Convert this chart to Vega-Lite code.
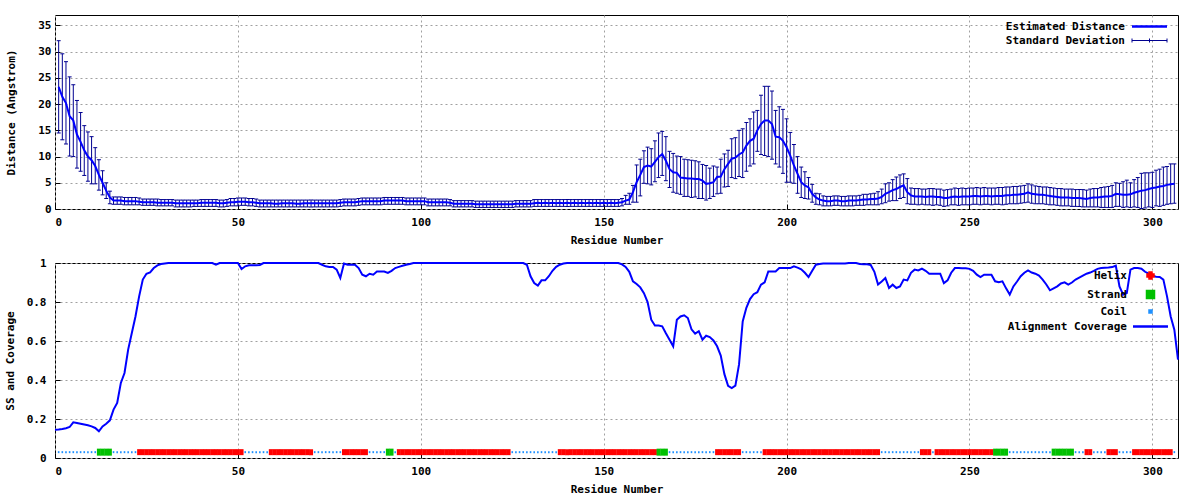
{
"$schema":"https://vega.github.io/schema/vega-lite/v6.json",
"background":"white",
"padding":{"left":3,"top":14,"right":0,"bottom":0},
"spacing":10,
"config":{
 "font":"DejaVu Sans Mono",
 "view":{"stroke":"black","strokeWidth":1},
 "axis":{"labelFont":"DejaVu Sans Mono","labelFontWeight":"bold","labelFontSize":11,"labelColor":"black","labelOverlap":false,"titleFont":"DejaVu Sans Mono","titleFontWeight":"bold","titleFontSize":11,"titleColor":"black","grid":true,"gridColor":"#a0a0a0","gridDash":[2,3],"gridWidth":1,"domain":false,"tickColor":"black","tickSize":-5,"tickWidth":1},
 "legend":{"orient":"none","title":null,"padding":0,"rowPadding":2,"labelAlign":"right","labelFont":"DejaVu Sans Mono","labelFontWeight":"bold","labelFontSize":11,"labelColor":"black","labelLimit":400,"symbolSize":100}
},
"resolve":{"scale":{"color":"independent","x":"independent","y":"independent"},"legend":{"color":"independent"}},
"vconcat":[
{
 "width":1123,"height":194,
 "data":{"values":[
{"r":1,"d":23.3,"lo":14.5,"hi":32.1},{"r":2,"d":21.4,"lo":13.2,"hi":29.6},{"r":3,"d":20.2,"lo":12.4,"hi":28.1},{"r":4,"d":17.7,"lo":10.1,"hi":25.2},{"r":5,"d":16.9,"lo":10.0,"hi":23.7},{"r":6,"d":14.2,"lo":7.8,"hi":20.7},{"r":7,"d":12.8,"lo":7.2,"hi":18.4},{"r":8,"d":11.2,"lo":6.4,"hi":15.9},{"r":9,"d":10.0,"lo":5.3,"hi":14.7},{"r":10,"d":9.3,"lo":4.8,"hi":13.8},
{"r":11,"d":8.2,"lo":4.8,"hi":11.7},{"r":12,"d":6.5,"lo":3.6,"hi":9.4},{"r":13,"d":5.0,"lo":2.7,"hi":7.3},{"r":14,"d":3.5,"lo":2.0,"hi":5.0},{"r":15,"d":2.2,"lo":1.0,"hi":3.4},{"r":16,"d":1.6,"lo":0.9,"hi":2.3},{"r":17,"d":1.6,"lo":0.9,"hi":2.3},{"r":18,"d":1.6,"lo":0.9,"hi":2.3},{"r":19,"d":1.5,"lo":0.8,"hi":2.2},{"r":20,"d":1.5,"lo":0.8,"hi":2.2},
{"r":21,"d":1.5,"lo":0.8,"hi":2.2},{"r":22,"d":1.5,"lo":0.8,"hi":2.2},{"r":23,"d":1.4,"lo":0.8,"hi":2.1},{"r":24,"d":1.3,"lo":0.7,"hi":1.9},{"r":25,"d":1.3,"lo":0.7,"hi":1.9},{"r":26,"d":1.3,"lo":0.7,"hi":1.9},{"r":27,"d":1.3,"lo":0.7,"hi":1.9},{"r":28,"d":1.2,"lo":0.6,"hi":1.9},{"r":29,"d":1.2,"lo":0.6,"hi":1.8},{"r":30,"d":1.2,"lo":0.6,"hi":1.8},
{"r":31,"d":1.2,"lo":0.6,"hi":1.8},{"r":32,"d":1.2,"lo":0.6,"hi":1.8},{"r":33,"d":1.1,"lo":0.4,"hi":1.7},{"r":34,"d":1.1,"lo":0.4,"hi":1.7},{"r":35,"d":1.1,"lo":0.4,"hi":1.7},{"r":36,"d":1.1,"lo":0.4,"hi":1.7},{"r":37,"d":1.1,"lo":0.4,"hi":1.7},{"r":38,"d":1.1,"lo":0.5,"hi":1.7},{"r":39,"d":1.1,"lo":0.5,"hi":1.7},{"r":40,"d":1.2,"lo":0.5,"hi":1.8},
{"r":41,"d":1.2,"lo":0.5,"hi":1.8},{"r":42,"d":1.2,"lo":0.5,"hi":1.8},{"r":43,"d":1.2,"lo":0.5,"hi":1.8},{"r":44,"d":1.2,"lo":0.5,"hi":1.8},{"r":45,"d":1.1,"lo":0.4,"hi":1.7},{"r":46,"d":1.1,"lo":0.4,"hi":1.7},{"r":47,"d":1.2,"lo":0.5,"hi":1.8},{"r":48,"d":1.3,"lo":0.6,"hi":2.0},{"r":49,"d":1.3,"lo":0.6,"hi":2.0},{"r":50,"d":1.4,"lo":0.6,"hi":2.1},
{"r":51,"d":1.4,"lo":0.7,"hi":2.1},{"r":52,"d":1.4,"lo":0.7,"hi":2.1},{"r":53,"d":1.3,"lo":0.6,"hi":2.0},{"r":54,"d":1.3,"lo":0.6,"hi":2.0},{"r":55,"d":1.2,"lo":0.5,"hi":1.9},{"r":56,"d":1.1,"lo":0.4,"hi":1.7},{"r":57,"d":1.1,"lo":0.4,"hi":1.7},{"r":58,"d":1.1,"lo":0.4,"hi":1.7},{"r":59,"d":1.1,"lo":0.4,"hi":1.7},{"r":60,"d":1.0,"lo":0.4,"hi":1.7},
{"r":61,"d":1.0,"lo":0.4,"hi":1.7},{"r":62,"d":1.1,"lo":0.4,"hi":1.7},{"r":63,"d":1.1,"lo":0.4,"hi":1.7},{"r":64,"d":1.1,"lo":0.4,"hi":1.7},{"r":65,"d":1.1,"lo":0.4,"hi":1.7},{"r":66,"d":1.0,"lo":0.4,"hi":1.7},{"r":67,"d":1.0,"lo":0.4,"hi":1.7},{"r":68,"d":1.1,"lo":0.4,"hi":1.7},{"r":69,"d":1.1,"lo":0.4,"hi":1.7},{"r":70,"d":1.1,"lo":0.4,"hi":1.7},
{"r":71,"d":1.1,"lo":0.4,"hi":1.7},{"r":72,"d":1.1,"lo":0.4,"hi":1.7},{"r":73,"d":1.1,"lo":0.4,"hi":1.7},{"r":74,"d":1.1,"lo":0.4,"hi":1.7},{"r":75,"d":1.1,"lo":0.4,"hi":1.7},{"r":76,"d":1.1,"lo":0.4,"hi":1.7},{"r":77,"d":1.1,"lo":0.4,"hi":1.7},{"r":78,"d":1.2,"lo":0.5,"hi":1.8},{"r":79,"d":1.3,"lo":0.6,"hi":1.9},{"r":80,"d":1.3,"lo":0.6,"hi":1.9},
{"r":81,"d":1.3,"lo":0.6,"hi":1.9},{"r":82,"d":1.3,"lo":0.6,"hi":1.9},{"r":83,"d":1.4,"lo":0.7,"hi":2.0},{"r":84,"d":1.5,"lo":0.8,"hi":2.1},{"r":85,"d":1.5,"lo":0.8,"hi":2.1},{"r":86,"d":1.5,"lo":0.8,"hi":2.1},{"r":87,"d":1.5,"lo":0.8,"hi":2.1},{"r":88,"d":1.5,"lo":0.8,"hi":2.1},{"r":89,"d":1.5,"lo":0.8,"hi":2.1},{"r":90,"d":1.6,"lo":0.9,"hi":2.2},
{"r":91,"d":1.6,"lo":0.9,"hi":2.2},{"r":92,"d":1.6,"lo":0.9,"hi":2.2},{"r":93,"d":1.6,"lo":0.9,"hi":2.2},{"r":94,"d":1.6,"lo":0.9,"hi":2.2},{"r":95,"d":1.6,"lo":0.9,"hi":2.2},{"r":96,"d":1.5,"lo":0.8,"hi":2.1},{"r":97,"d":1.5,"lo":0.8,"hi":2.1},{"r":98,"d":1.5,"lo":0.8,"hi":2.1},{"r":99,"d":1.5,"lo":0.8,"hi":2.1},{"r":100,"d":1.5,"lo":0.8,"hi":2.1},
{"r":101,"d":1.5,"lo":0.8,"hi":2.1},{"r":102,"d":1.3,"lo":0.6,"hi":1.9},{"r":103,"d":1.3,"lo":0.6,"hi":1.9},{"r":104,"d":1.3,"lo":0.6,"hi":1.9},{"r":105,"d":1.3,"lo":0.6,"hi":1.9},{"r":106,"d":1.3,"lo":0.6,"hi":1.9},{"r":107,"d":1.3,"lo":0.6,"hi":1.9},{"r":108,"d":1.2,"lo":0.6,"hi":1.8},{"r":109,"d":1.0,"lo":0.4,"hi":1.6},{"r":110,"d":1.0,"lo":0.4,"hi":1.6},
{"r":111,"d":1.0,"lo":0.4,"hi":1.6},{"r":112,"d":1.0,"lo":0.4,"hi":1.6},{"r":113,"d":1.0,"lo":0.4,"hi":1.6},{"r":114,"d":1.0,"lo":0.4,"hi":1.6},{"r":115,"d":0.9,"lo":0.3,"hi":1.5},{"r":116,"d":0.9,"lo":0.3,"hi":1.5},{"r":117,"d":0.9,"lo":0.3,"hi":1.5},{"r":118,"d":0.9,"lo":0.3,"hi":1.5},{"r":119,"d":0.9,"lo":0.3,"hi":1.5},{"r":120,"d":0.9,"lo":0.3,"hi":1.5},
{"r":121,"d":0.9,"lo":0.3,"hi":1.5},{"r":122,"d":0.9,"lo":0.3,"hi":1.5},{"r":123,"d":0.9,"lo":0.3,"hi":1.5},{"r":124,"d":0.9,"lo":0.3,"hi":1.5},{"r":125,"d":0.9,"lo":0.3,"hi":1.5},{"r":126,"d":1.0,"lo":0.4,"hi":1.6},{"r":127,"d":1.0,"lo":0.4,"hi":1.6},{"r":128,"d":1.0,"lo":0.4,"hi":1.6},{"r":129,"d":1.0,"lo":0.4,"hi":1.6},{"r":130,"d":1.0,"lo":0.4,"hi":1.6},
{"r":131,"d":1.1,"lo":0.5,"hi":1.8},{"r":132,"d":1.2,"lo":0.5,"hi":1.8},{"r":133,"d":1.1,"lo":0.5,"hi":1.8},{"r":134,"d":1.2,"lo":0.5,"hi":1.8},{"r":135,"d":1.1,"lo":0.5,"hi":1.8},{"r":136,"d":1.2,"lo":0.5,"hi":1.8},{"r":137,"d":1.1,"lo":0.5,"hi":1.8},{"r":138,"d":1.2,"lo":0.5,"hi":1.8},{"r":139,"d":1.1,"lo":0.5,"hi":1.8},{"r":140,"d":1.2,"lo":0.5,"hi":1.8},
{"r":141,"d":1.1,"lo":0.5,"hi":1.8},{"r":142,"d":1.2,"lo":0.5,"hi":1.8},{"r":143,"d":1.1,"lo":0.5,"hi":1.8},{"r":144,"d":1.2,"lo":0.5,"hi":1.8},{"r":145,"d":1.1,"lo":0.5,"hi":1.8},{"r":146,"d":1.2,"lo":0.5,"hi":1.8},{"r":147,"d":1.1,"lo":0.5,"hi":1.8},{"r":148,"d":1.2,"lo":0.5,"hi":1.8},{"r":149,"d":1.1,"lo":0.5,"hi":1.8},{"r":150,"d":1.2,"lo":0.5,"hi":1.8},
{"r":151,"d":1.1,"lo":0.5,"hi":1.8},{"r":152,"d":1.2,"lo":0.5,"hi":1.8},{"r":153,"d":1.1,"lo":0.5,"hi":1.8},{"r":154,"d":1.2,"lo":0.5,"hi":1.8},{"r":155,"d":1.3,"lo":0.6,"hi":2.0},{"r":156,"d":1.6,"lo":0.9,"hi":2.6},{"r":157,"d":1.8,"lo":0.9,"hi":3.0},{"r":158,"d":3.2,"lo":1.3,"hi":4.5},{"r":159,"d":5.1,"lo":1.3,"hi":8.4},{"r":160,"d":6.5,"lo":2.5,"hi":9.5},
{"r":161,"d":8.0,"lo":4.9,"hi":11.1},{"r":162,"d":8.3,"lo":4.8,"hi":11.8},{"r":163,"d":8.1,"lo":4.6,"hi":11.5},{"r":164,"d":9.0,"lo":5.2,"hi":13.0},{"r":165,"d":9.9,"lo":6.0,"hi":14.5},{"r":166,"d":10.5,"lo":6.4,"hi":14.8},{"r":167,"d":9.2,"lo":5.4,"hi":13.8},{"r":168,"d":7.6,"lo":4.1,"hi":11.0},{"r":169,"d":7.0,"lo":3.2,"hi":10.6},{"r":170,"d":6.9,"lo":3.0,"hi":10.1},
{"r":171,"d":6.0,"lo":2.8,"hi":10.0},{"r":172,"d":5.9,"lo":2.4,"hi":9.5},{"r":173,"d":5.8,"lo":2.4,"hi":9.4},{"r":174,"d":5.8,"lo":2.2,"hi":9.3},{"r":175,"d":5.7,"lo":2.3,"hi":9.2},{"r":176,"d":5.7,"lo":2.0,"hi":9.0},{"r":177,"d":5.4,"lo":2.0,"hi":8.5},{"r":178,"d":4.8,"lo":1.7,"hi":8.3},{"r":179,"d":4.9,"lo":2.0,"hi":7.8},{"r":180,"d":5.1,"lo":2.4,"hi":8.2},
{"r":181,"d":6.1,"lo":2.9,"hi":8.0},{"r":182,"d":6.2,"lo":3.0,"hi":9.5},{"r":183,"d":7.6,"lo":4.2,"hi":10.5},{"r":184,"d":8.6,"lo":4.3,"hi":11.2},{"r":185,"d":9.6,"lo":6.0,"hi":13.4},{"r":186,"d":9.8,"lo":5.8,"hi":13.6},{"r":187,"d":10.4,"lo":6.2,"hi":15.0},{"r":188,"d":10.8,"lo":6.0,"hi":15.3},{"r":189,"d":12.1,"lo":7.2,"hi":16.5},{"r":190,"d":13.0,"lo":8.2,"hi":17.2},
{"r":191,"d":13.4,"lo":8.6,"hi":18.5},{"r":192,"d":15.0,"lo":11.0,"hi":18.8},{"r":193,"d":16.2,"lo":10.4,"hi":21.7},{"r":194,"d":16.9,"lo":10.2,"hi":23.4},{"r":195,"d":16.9,"lo":10.0,"hi":23.4},{"r":196,"d":16.2,"lo":9.5,"hi":22.5},{"r":197,"d":13.8,"lo":8.6,"hi":18.8},{"r":198,"d":13.7,"lo":8.0,"hi":19.5},{"r":199,"d":13.0,"lo":6.8,"hi":19.0},{"r":200,"d":11.8,"lo":5.1,"hi":17.2},
{"r":201,"d":10.2,"lo":5.1,"hi":14.6},{"r":202,"d":8.3,"lo":4.9,"hi":12.3},{"r":203,"d":6.7,"lo":3.0,"hi":10.0},{"r":204,"d":5.1,"lo":2.2,"hi":8.0},{"r":205,"d":4.5,"lo":2.0,"hi":7.1},{"r":206,"d":4.1,"lo":1.9,"hi":6.0},{"r":207,"d":2.9,"lo":1.3,"hi":4.7},{"r":208,"d":2.2,"lo":0.9,"hi":3.0},{"r":209,"d":1.8,"lo":0.8,"hi":2.9},{"r":210,"d":1.6,"lo":0.6,"hi":2.5},
{"r":211,"d":1.5,"lo":0.6,"hi":2.4},{"r":212,"d":1.5,"lo":0.6,"hi":2.4},{"r":213,"d":1.6,"lo":0.7,"hi":2.5},{"r":214,"d":1.6,"lo":0.7,"hi":2.5},{"r":215,"d":1.5,"lo":0.6,"hi":2.4},{"r":216,"d":1.5,"lo":0.6,"hi":2.4},{"r":217,"d":1.6,"lo":0.6,"hi":2.5},{"r":218,"d":1.6,"lo":0.6,"hi":2.5},{"r":219,"d":1.6,"lo":0.7,"hi":2.5},{"r":220,"d":1.7,"lo":0.7,"hi":2.6},
{"r":221,"d":1.8,"lo":0.7,"hi":2.8},{"r":222,"d":1.8,"lo":0.8,"hi":2.8},{"r":223,"d":1.9,"lo":0.8,"hi":2.9},{"r":224,"d":1.9,"lo":0.8,"hi":3.0},{"r":225,"d":2.0,"lo":0.8,"hi":3.3},{"r":226,"d":2.3,"lo":1.0,"hi":3.8},{"r":227,"d":2.9,"lo":1.2,"hi":4.8},{"r":228,"d":3.2,"lo":1.5,"hi":5.0},{"r":229,"d":3.6,"lo":1.6,"hi":5.6},{"r":230,"d":3.8,"lo":1.6,"hi":6.1},
{"r":231,"d":4.2,"lo":2.0,"hi":6.5},{"r":232,"d":4.5,"lo":2.2,"hi":6.7},{"r":233,"d":3.2,"lo":1.0,"hi":5.8},{"r":234,"d":2.6,"lo":0.9,"hi":4.0},{"r":235,"d":2.4,"lo":0.9,"hi":3.9},{"r":236,"d":2.4,"lo":0.8,"hi":3.9},{"r":237,"d":2.4,"lo":0.9,"hi":3.8},{"r":238,"d":2.3,"lo":0.8,"hi":3.8},{"r":239,"d":2.4,"lo":0.8,"hi":3.9},{"r":240,"d":2.4,"lo":0.7,"hi":3.9},
{"r":241,"d":2.3,"lo":0.8,"hi":3.8},{"r":242,"d":2.3,"lo":0.7,"hi":3.8},{"r":243,"d":2.1,"lo":0.5,"hi":3.6},{"r":244,"d":2.1,"lo":0.6,"hi":3.7},{"r":245,"d":2.3,"lo":0.8,"hi":3.8},{"r":246,"d":2.4,"lo":0.8,"hi":4.0},{"r":247,"d":2.3,"lo":0.7,"hi":3.9},{"r":248,"d":2.4,"lo":0.8,"hi":4.0},{"r":249,"d":2.4,"lo":0.8,"hi":3.9},{"r":250,"d":2.4,"lo":0.8,"hi":4.0},
{"r":251,"d":2.5,"lo":0.9,"hi":4.0},{"r":252,"d":2.5,"lo":0.9,"hi":4.1},{"r":253,"d":2.4,"lo":0.8,"hi":4.0},{"r":254,"d":2.5,"lo":0.9,"hi":4.1},{"r":255,"d":2.5,"lo":0.9,"hi":4.0},{"r":256,"d":2.4,"lo":0.8,"hi":4.0},{"r":257,"d":2.5,"lo":0.9,"hi":4.0},{"r":258,"d":2.5,"lo":0.9,"hi":4.1},{"r":259,"d":2.5,"lo":0.8,"hi":4.1},{"r":260,"d":2.6,"lo":0.9,"hi":4.2},
{"r":261,"d":2.6,"lo":1.0,"hi":4.2},{"r":262,"d":2.7,"lo":1.0,"hi":4.3},{"r":263,"d":2.7,"lo":1.0,"hi":4.3},{"r":264,"d":2.8,"lo":1.1,"hi":4.4},{"r":265,"d":2.9,"lo":1.2,"hi":4.5},{"r":266,"d":3.2,"lo":1.3,"hi":4.8},{"r":267,"d":2.9,"lo":1.1,"hi":4.6},{"r":268,"d":2.8,"lo":1.0,"hi":4.4},{"r":269,"d":2.7,"lo":1.0,"hi":4.3},{"r":270,"d":2.7,"lo":1.0,"hi":4.2},
{"r":271,"d":2.6,"lo":0.9,"hi":4.2},{"r":272,"d":2.5,"lo":0.8,"hi":4.1},{"r":273,"d":2.4,"lo":0.8,"hi":4.0},{"r":274,"d":2.3,"lo":0.7,"hi":3.9},{"r":275,"d":2.2,"lo":0.6,"hi":3.9},{"r":276,"d":2.2,"lo":0.6,"hi":3.8},{"r":277,"d":2.2,"lo":0.6,"hi":3.8},{"r":278,"d":2.1,"lo":0.5,"hi":3.8},{"r":279,"d":2.1,"lo":0.5,"hi":3.7},{"r":280,"d":2.1,"lo":0.5,"hi":3.7},
{"r":281,"d":2.0,"lo":0.4,"hi":3.7},{"r":282,"d":1.9,"lo":0.4,"hi":3.6},{"r":283,"d":2.1,"lo":0.4,"hi":3.8},{"r":284,"d":2.2,"lo":0.4,"hi":3.9},{"r":285,"d":2.2,"lo":0.4,"hi":3.9},{"r":286,"d":2.3,"lo":0.3,"hi":4.1},{"r":287,"d":2.4,"lo":0.3,"hi":4.2},{"r":288,"d":2.4,"lo":0.3,"hi":4.3},{"r":289,"d":2.5,"lo":0.3,"hi":4.5},{"r":290,"d":2.9,"lo":0.5,"hi":5.0},
{"r":291,"d":2.8,"lo":0.5,"hi":4.9},{"r":292,"d":2.7,"lo":0.3,"hi":5.2},{"r":293,"d":2.7,"lo":0.4,"hi":5.5},{"r":294,"d":2.8,"lo":0.3,"hi":5.0},{"r":295,"d":3.1,"lo":0.4,"hi":5.6},{"r":296,"d":3.3,"lo":0.3,"hi":6.0},{"r":297,"d":3.5,"lo":0.1,"hi":6.8},{"r":298,"d":3.6,"lo":0.2,"hi":6.9},{"r":299,"d":3.8,"lo":0.4,"hi":6.9},{"r":300,"d":4.0,"lo":0.3,"hi":7.0},
{"r":301,"d":4.1,"lo":0.6,"hi":7.4},{"r":302,"d":4.3,"lo":0.5,"hi":7.6},{"r":303,"d":4.4,"lo":0.7,"hi":8.0},{"r":304,"d":4.6,"lo":0.9,"hi":8.1},{"r":305,"d":4.7,"lo":1.0,"hi":8.6},{"r":306,"d":4.8,"lo":1.1,"hi":8.6}
 ]},
 "encoding":{"x":{"field":"r","type":"quantitative","scale":{"domain":[0,307],"nice":false,"zero":false},"axis":{"values":[0,50,100,150,200,250,300],"title":"Residue Number","labelPadding":12,"titlePadding":7}}},
 "layer":[
  {"mark":{"type":"rule","strokeWidth":1},
   "encoding":{"y":{"field":"lo","type":"quantitative","title":"Distance (Angstrom)","scale":{"domain":[0,37],"nice":false},"axis":{"values":[0,5,10,15,20,25,30,35],"labelPadding":9,"titleX":-44,"titleBaseline":"middle"}},"y2":{"field":"hi"},
    "color":{"datum":"Standard Deviation","type":"nominal","scale":{"domain":["Estimated Distance","Standard Deviation"],"range":["#0000ff","#000090"]},
     "legend":{"legendX":1089,"legendY":6,"labelOffset":-30,
      "encode":{"symbols":{"update":{
       "shape":{"signal":"datum.value === 'Estimated Distance' ? 'M-3.5,0H3.5' : 'M-3.5,0H3.5M-3.5,-0.4V0.4M3.5,-0.4V0.4M0,-0.4V0.4'"},
       "stroke":{"signal":"datum.value === 'Estimated Distance' ? '#0000ff' : '#000090'"},
       "strokeWidth":{"signal":"datum.value === 'Estimated Distance' ? 2.5 : 1"},
       "fill":{"value":"transparent"},"opacity":{"value":1}}}}}}}},
  {"mark":{"type":"tick","orient":"horizontal","size":4,"thickness":1,"opacity":1},
   "encoding":{"y":{"field":"lo","type":"quantitative","title":"Distance (Angstrom)","axis":{"values":[0,5,10,15,20,25,30,35],"labelPadding":9,"titleX":-44,"titleBaseline":"middle"}},"color":{"datum":"Standard Deviation","type":"nominal"}}},
  {"mark":{"type":"tick","orient":"horizontal","size":4,"thickness":1,"opacity":1},
   "encoding":{"y":{"field":"hi","type":"quantitative","title":"Distance (Angstrom)","axis":{"values":[0,5,10,15,20,25,30,35],"labelPadding":9,"titleX":-44,"titleBaseline":"middle"}},"color":{"datum":"Standard Deviation","type":"nominal"}}},
  {"mark":{"type":"line","strokeWidth":2},
   "encoding":{"y":{"field":"d","type":"quantitative","title":"Distance (Angstrom)","axis":{"values":[0,5,10,15,20,25,30,35],"labelPadding":9,"titleX":-44,"titleBaseline":"middle"}},"color":{"datum":"Estimated Distance","type":"nominal"}}}
 ]
},
{
 "width":1123,"height":195,
 "data":{"values":[
{"r":0,"c":0.145},{"r":1,"c":0.146,"ss":"C"},{"r":2,"c":0.149,"ss":"C"},{"r":3,"c":0.153,"ss":"C"},{"r":4,"c":0.159,"ss":"C"},{"r":5,"c":0.183,"ss":"C"},{"r":6,"c":0.180,"ss":"C"},{"r":7,"c":0.176,"ss":"C"},{"r":8,"c":0.172,"ss":"C"},{"r":9,"c":0.168,"ss":"C"},{"r":10,"c":0.162,"ss":"C"},
{"r":11,"c":0.154,"ss":"C"},{"r":12,"c":0.137,"ss":"E"},{"r":13,"c":0.162,"ss":"E"},{"r":14,"c":0.176,"ss":"E"},{"r":15,"c":0.193,"ss":"E"},{"r":16,"c":0.248,"ss":"C"},{"r":17,"c":0.282,"ss":"C"},{"r":18,"c":0.385,"ss":"C"},{"r":19,"c":0.436,"ss":"C"},{"r":20,"c":0.556,"ss":"C"},
{"r":21,"c":0.641,"ss":"C"},{"r":22,"c":0.726,"ss":"C"},{"r":23,"c":0.829,"ss":"H"},{"r":24,"c":0.915,"ss":"H"},{"r":25,"c":0.945,"ss":"H"},{"r":26,"c":0.952,"ss":"H"},{"r":27,"c":0.974,"ss":"H"},{"r":28,"c":0.988,"ss":"H"},{"r":29,"c":0.995,"ss":"H"},{"r":30,"c":0.998,"ss":"H"},
{"r":31,"c":1,"ss":"H"},{"r":32,"c":1,"ss":"H"},{"r":33,"c":1,"ss":"H"},{"r":34,"c":1,"ss":"H"},{"r":35,"c":1,"ss":"H"},{"r":36,"c":1,"ss":"H"},{"r":37,"c":1,"ss":"H"},{"r":38,"c":1,"ss":"H"},{"r":39,"c":1,"ss":"H"},{"r":40,"c":1,"ss":"H"},
{"r":41,"c":1,"ss":"H"},{"r":42,"c":1,"ss":"H"},{"r":43,"c":1,"ss":"H"},{"r":44,"c":0.991,"ss":"H"},{"r":45,"c":1,"ss":"H"},{"r":46,"c":1,"ss":"H"},{"r":47,"c":1,"ss":"H"},{"r":48,"c":1,"ss":"H"},{"r":49,"c":1,"ss":"H"},{"r":50,"c":1,"ss":"H"},
{"r":51,"c":0.969,"ss":"H"},{"r":52,"c":0.983,"ss":"C"},{"r":53,"c":0.988,"ss":"C"},{"r":54,"c":0.988,"ss":"C"},{"r":55,"c":0.988,"ss":"C"},{"r":56,"c":0.990,"ss":"C"},{"r":57,"c":1,"ss":"C"},{"r":58,"c":1,"ss":"C"},{"r":59,"c":1,"ss":"H"},{"r":60,"c":1,"ss":"H"},
{"r":61,"c":1,"ss":"H"},{"r":62,"c":1,"ss":"H"},{"r":63,"c":1,"ss":"H"},{"r":64,"c":1,"ss":"H"},{"r":65,"c":1,"ss":"H"},{"r":66,"c":1,"ss":"H"},{"r":67,"c":1,"ss":"H"},{"r":68,"c":1,"ss":"H"},{"r":69,"c":1,"ss":"H"},{"r":70,"c":1,"ss":"H"},
{"r":71,"c":1,"ss":"C"},{"r":72,"c":1,"ss":"C"},{"r":73,"c":0.991,"ss":"C"},{"r":74,"c":0.983,"ss":"C"},{"r":75,"c":0.980,"ss":"C"},{"r":76,"c":0.980,"ss":"C"},{"r":77,"c":0.966,"ss":"C"},{"r":78,"c":0.923,"ss":"C"},{"r":79,"c":0.997,"ss":"H"},{"r":80,"c":0.991,"ss":"H"},
{"r":81,"c":0.991,"ss":"H"},{"r":82,"c":0.991,"ss":"H"},{"r":83,"c":0.974,"ss":"H"},{"r":84,"c":0.940,"ss":"H"},{"r":85,"c":0.932,"ss":"H"},{"r":86,"c":0.945,"ss":"C"},{"r":87,"c":0.940,"ss":"C"},{"r":88,"c":0.956,"ss":"C"},{"r":89,"c":0.956,"ss":"C"},{"r":90,"c":0.956,"ss":"C"},
{"r":91,"c":0.949,"ss":"E"},{"r":92,"c":0.960,"ss":"E"},{"r":93,"c":0.974,"ss":"C"},{"r":94,"c":0.980,"ss":"H"},{"r":95,"c":0.986,"ss":"H"},{"r":96,"c":0.991,"ss":"H"},{"r":97,"c":0.995,"ss":"H"},{"r":98,"c":1,"ss":"H"},{"r":99,"c":1,"ss":"H"},{"r":100,"c":1,"ss":"H"},
{"r":101,"c":1,"ss":"H"},{"r":102,"c":1,"ss":"H"},{"r":103,"c":1,"ss":"H"},{"r":104,"c":1,"ss":"H"},{"r":105,"c":1,"ss":"H"},{"r":106,"c":1,"ss":"H"},{"r":107,"c":1,"ss":"H"},{"r":108,"c":1,"ss":"H"},{"r":109,"c":1,"ss":"H"},{"r":110,"c":1,"ss":"H"},
{"r":111,"c":1,"ss":"H"},{"r":112,"c":1,"ss":"H"},{"r":113,"c":1,"ss":"H"},{"r":114,"c":1,"ss":"H"},{"r":115,"c":1,"ss":"H"},{"r":116,"c":1,"ss":"H"},{"r":117,"c":1,"ss":"H"},{"r":118,"c":1,"ss":"H"},{"r":119,"c":1,"ss":"H"},{"r":120,"c":1,"ss":"H"},
{"r":121,"c":1,"ss":"H"},{"r":122,"c":1,"ss":"H"},{"r":123,"c":1,"ss":"H"},{"r":124,"c":1,"ss":"H"},{"r":125,"c":1,"ss":"C"},{"r":126,"c":1,"ss":"C"},{"r":127,"c":1,"ss":"C"},{"r":128,"c":1,"ss":"C"},{"r":129,"c":0.991,"ss":"C"},{"r":130,"c":0.932,"ss":"C"},
{"r":131,"c":0.897,"ss":"C"},{"r":132,"c":0.884,"ss":"C"},{"r":133,"c":0.911,"ss":"C"},{"r":134,"c":0.911,"ss":"C"},{"r":135,"c":0.932,"ss":"C"},{"r":136,"c":0.960,"ss":"C"},{"r":137,"c":0.980,"ss":"C"},{"r":138,"c":0.991,"ss":"H"},{"r":139,"c":0.997,"ss":"H"},{"r":140,"c":1,"ss":"H"},
{"r":141,"c":1,"ss":"H"},{"r":142,"c":1,"ss":"H"},{"r":143,"c":1,"ss":"H"},{"r":144,"c":1,"ss":"H"},{"r":145,"c":1,"ss":"H"},{"r":146,"c":1,"ss":"H"},{"r":147,"c":1,"ss":"H"},{"r":148,"c":1,"ss":"H"},{"r":149,"c":1,"ss":"H"},{"r":150,"c":1,"ss":"H"},
{"r":151,"c":1,"ss":"H"},{"r":152,"c":1,"ss":"H"},{"r":153,"c":1,"ss":"H"},{"r":154,"c":1,"ss":"H"},{"r":155,"c":0.993,"ss":"H"},{"r":156,"c":0.980,"ss":"H"},{"r":157,"c":0.955,"ss":"H"},{"r":158,"c":0.906,"ss":"H"},{"r":159,"c":0.892,"ss":"H"},{"r":160,"c":0.875,"ss":"H"},
{"r":161,"c":0.845,"ss":"H"},{"r":162,"c":0.800,"ss":"H"},{"r":163,"c":0.709,"ss":"H"},{"r":164,"c":0.679,"ss":"H"},{"r":165,"c":0.679,"ss":"E"},{"r":166,"c":0.675,"ss":"E"},{"r":167,"c":0.640,"ss":"E"},{"r":168,"c":0.607,"ss":"C"},{"r":169,"c":0.573,"ss":"C"},{"r":170,"c":0.709,"ss":"C"},
{"r":171,"c":0.726,"ss":"C"},{"r":172,"c":0.732,"ss":"C"},{"r":173,"c":0.718,"ss":"C"},{"r":174,"c":0.660,"ss":"C"},{"r":175,"c":0.638,"ss":"C"},{"r":176,"c":0.650,"ss":"C"},{"r":177,"c":0.607,"ss":"C"},{"r":178,"c":0.627,"ss":"C"},{"r":179,"c":0.620,"ss":"C"},{"r":180,"c":0.603,"ss":"C"},
{"r":181,"c":0.573,"ss":"H"},{"r":182,"c":0.525,"ss":"H"},{"r":183,"c":0.430,"ss":"H"},{"r":184,"c":0.370,"ss":"H"},{"r":185,"c":0.359,"ss":"H"},{"r":186,"c":0.371,"ss":"H"},{"r":187,"c":0.480,"ss":"H"},{"r":188,"c":0.700,"ss":"C"},{"r":189,"c":0.770,"ss":"C"},{"r":190,"c":0.815,"ss":"C"},
{"r":191,"c":0.840,"ss":"C"},{"r":192,"c":0.850,"ss":"C"},{"r":193,"c":0.889,"ss":"C"},{"r":194,"c":0.901,"ss":"H"},{"r":195,"c":0.957,"ss":"H"},{"r":196,"c":0.957,"ss":"H"},{"r":197,"c":0.957,"ss":"H"},{"r":198,"c":0.974,"ss":"H"},{"r":199,"c":0.974,"ss":"H"},{"r":200,"c":0.974,"ss":"H"},
{"r":201,"c":0.974,"ss":"H"},{"r":202,"c":0.983,"ss":"H"},{"r":203,"c":0.976,"ss":"H"},{"r":204,"c":0.968,"ss":"H"},{"r":205,"c":0.950,"ss":"H"},{"r":206,"c":0.928,"ss":"H"},{"r":207,"c":0.960,"ss":"H"},{"r":208,"c":0.991,"ss":"H"},{"r":209,"c":0.995,"ss":"H"},{"r":210,"c":0.997,"ss":"H"},
{"r":211,"c":0.997,"ss":"H"},{"r":212,"c":0.997,"ss":"H"},{"r":213,"c":0.997,"ss":"H"},{"r":214,"c":0.997,"ss":"H"},{"r":215,"c":0.997,"ss":"H"},{"r":216,"c":0.997,"ss":"H"},{"r":217,"c":1,"ss":"H"},{"r":218,"c":1,"ss":"H"},{"r":219,"c":1,"ss":"H"},{"r":220,"c":0.995,"ss":"H"},
{"r":221,"c":0.993,"ss":"H"},{"r":222,"c":0.993,"ss":"H"},{"r":223,"c":0.990,"ss":"H"},{"r":224,"c":0.955,"ss":"H"},{"r":225,"c":0.890,"ss":"H"},{"r":226,"c":0.905,"ss":"C"},{"r":227,"c":0.923,"ss":"C"},{"r":228,"c":0.872,"ss":"C"},{"r":229,"c":0.889,"ss":"C"},{"r":230,"c":0.872,"ss":"C"},
{"r":231,"c":0.880,"ss":"C"},{"r":232,"c":0.915,"ss":"C"},{"r":233,"c":0.911,"ss":"C"},{"r":234,"c":0.950,"ss":"C"},{"r":235,"c":0.966,"ss":"C"},{"r":236,"c":0.962,"ss":"C"},{"r":237,"c":0.971,"ss":"H"},{"r":238,"c":0.960,"ss":"H"},{"r":239,"c":0.945,"ss":"H"},{"r":240,"c":0.945,"ss":"C"},
{"r":241,"c":0.945,"ss":"H"},{"r":242,"c":0.945,"ss":"H"},{"r":243,"c":0.897,"ss":"H"},{"r":244,"c":0.911,"ss":"H"},{"r":245,"c":0.950,"ss":"H"},{"r":246,"c":0.974,"ss":"H"},{"r":247,"c":0.974,"ss":"H"},{"r":248,"c":0.973,"ss":"H"},{"r":249,"c":0.973,"ss":"H"},{"r":250,"c":0.970,"ss":"H"},
{"r":251,"c":0.960,"ss":"H"},{"r":252,"c":0.940,"ss":"H"},{"r":253,"c":0.928,"ss":"H"},{"r":254,"c":0.940,"ss":"H"},{"r":255,"c":0.940,"ss":"H"},{"r":256,"c":0.940,"ss":"H"},{"r":257,"c":0.906,"ss":"E"},{"r":258,"c":0.901,"ss":"E"},{"r":259,"c":0.906,"ss":"E"},{"r":260,"c":0.870,"ss":"E"},
{"r":261,"c":0.838,"ss":"C"},{"r":262,"c":0.880,"ss":"C"},{"r":263,"c":0.905,"ss":"C"},{"r":264,"c":0.932,"ss":"C"},{"r":265,"c":0.950,"ss":"C"},{"r":266,"c":0.962,"ss":"C"},{"r":267,"c":0.951,"ss":"C"},{"r":268,"c":0.945,"ss":"C"},{"r":269,"c":0.935,"ss":"C"},{"r":270,"c":0.915,"ss":"C"},
{"r":271,"c":0.890,"ss":"C"},{"r":272,"c":0.860,"ss":"C"},{"r":273,"c":0.870,"ss":"E"},{"r":274,"c":0.880,"ss":"E"},{"r":275,"c":0.895,"ss":"E"},{"r":276,"c":0.901,"ss":"E"},{"r":277,"c":0.889,"ss":"E"},{"r":278,"c":0.900,"ss":"E"},{"r":279,"c":0.915,"ss":"C"},{"r":280,"c":0.925,"ss":"C"},
{"r":281,"c":0.935,"ss":"C"},{"r":282,"c":0.945,"ss":"H"},{"r":283,"c":0.951,"ss":"H"},{"r":284,"c":0.960,"ss":"C"},{"r":285,"c":0.970,"ss":"C"},{"r":286,"c":0.974,"ss":"C"},{"r":287,"c":0.976,"ss":"C"},{"r":288,"c":0.977,"ss":"H"},{"r":289,"c":0.979,"ss":"H"},{"r":290,"c":0.986,"ss":"H"},
{"r":291,"c":0.880,"ss":"C"},{"r":292,"c":0.838,"ss":"C"},{"r":293,"c":0.846,"ss":"C"},{"r":294,"c":0.966,"ss":"C"},{"r":295,"c":0.974,"ss":"H"},{"r":296,"c":0.974,"ss":"H"},{"r":297,"c":0.971,"ss":"H"},{"r":298,"c":0.955,"ss":"H"},{"r":299,"c":0.945,"ss":"H"},{"r":300,"c":0.935,"ss":"H"},
{"r":301,"c":0.930,"ss":"H"},{"r":302,"c":0.928,"ss":"H"},{"r":303,"c":0.915,"ss":"H"},{"r":304,"c":0.829,"ss":"H"},{"r":305,"c":0.726,"ss":"H"},{"r":306,"c":0.658,"ss":"C"},{"r":307,"c":0.504}
 ]},
 "encoding":{"x":{"field":"r","type":"quantitative","scale":{"domain":[0,307],"nice":false,"zero":false},"axis":{"values":[0,50,100,150,200,250,300],"title":"Residue Number","labelPadding":12,"titlePadding":7}}},
 "layer":[
  {"transform":[{"filter":"datum.ss === 'C'"}],
   "mark":{"type":"tick","orient":"vertical","size":2,"thickness":1.6,"opacity":1},
   "encoding":{"y":{"datum":0.03,"type":"quantitative","title":"SS and Coverage","scale":{"domain":[0,1],"nice":false},"axis":{"values":[0,0.2,0.4,0.6,0.8,1],"labelExpr":"'' + datum.value","labelPadding":14,"titleX":-45,"titleBaseline":"middle"}},
    "color":{"datum":"Coil","type":"nominal","scale":{"domain":["Helix","Strand","Coil","Alignment Coverage"],"range":["#ff0000","#00c000","#1e90ff","#0000ff"]},
     "legend":{"legendX":1089,"legendY":6,"labelOffset":-30,
      "encode":{"symbols":{"update":{
       "shape":{"signal":"datum.value === 'Helix' ? 'M-0.6,-0.2H-0.2V-0.6H0.2V-0.2H0.6V0.2H0.2V0.6H-0.2V0.2H-0.6Z' : datum.value === 'Strand' ? 'M-0.7,-0.7H0.7V0.7H-0.7Z' : datum.value === 'Coil' ? 'M-0.2,-0.2H0.2V0.2H-0.2Z' : 'M-3.5,0H3.5'"},
       "fill":{"signal":"datum.value === 'Helix' ? '#ff0000' : datum.value === 'Strand' ? '#00c000' : datum.value === 'Coil' ? '#1e90ff' : 'transparent'"},
       "stroke":{"signal":"datum.value === 'Alignment Coverage' ? '#0000ff' : 'transparent'"},
       "strokeWidth":{"value":2.5},"opacity":{"value":1}}}}}}}},
  {"transform":[{"filter":"datum.ss === 'H'"}],
   "mark":{"type":"tick","orient":"vertical","size":6,"thickness":4,"opacity":1},
   "encoding":{"y":{"datum":0.03,"type":"quantitative","title":"SS and Coverage","axis":{"values":[0,0.2,0.4,0.6,0.8,1],"labelExpr":"'' + datum.value","labelPadding":14,"titleX":-45,"titleBaseline":"middle"}},
    "color":{"datum":"Helix","type":"nominal",
     "legend":{"legendX":1089,"legendY":6,"labelOffset":-30,
      "encode":{"symbols":{"update":{
       "shape":{"signal":"datum.value === 'Helix' ? 'M-0.6,-0.2H-0.2V-0.6H0.2V-0.2H0.6V0.2H0.2V0.6H-0.2V0.2H-0.6Z' : datum.value === 'Strand' ? 'M-0.7,-0.7H0.7V0.7H-0.7Z' : datum.value === 'Coil' ? 'M-0.2,-0.2H0.2V0.2H-0.2Z' : 'M-3.5,0H3.5'"},
       "fill":{"signal":"datum.value === 'Helix' ? '#ff0000' : datum.value === 'Strand' ? '#00c000' : datum.value === 'Coil' ? '#1e90ff' : 'transparent'"},
       "stroke":{"signal":"datum.value === 'Alignment Coverage' ? '#0000ff' : 'transparent'"},
       "strokeWidth":{"value":2.5},"opacity":{"value":1}}}}}}}},
  {"transform":[{"filter":"datum.ss === 'E'"}],
   "mark":{"type":"tick","orient":"vertical","size":7,"thickness":4,"opacity":1},
   "encoding":{"y":{"datum":0.03,"type":"quantitative","title":"SS and Coverage","axis":{"values":[0,0.2,0.4,0.6,0.8,1],"labelExpr":"'' + datum.value","labelPadding":14,"titleX":-45,"titleBaseline":"middle"}},
    "color":{"datum":"Strand","type":"nominal",
     "legend":{"legendX":1089,"legendY":6,"labelOffset":-30,
      "encode":{"symbols":{"update":{
       "shape":{"signal":"datum.value === 'Helix' ? 'M-0.6,-0.2H-0.2V-0.6H0.2V-0.2H0.6V0.2H0.2V0.6H-0.2V0.2H-0.6Z' : datum.value === 'Strand' ? 'M-0.7,-0.7H0.7V0.7H-0.7Z' : datum.value === 'Coil' ? 'M-0.2,-0.2H0.2V0.2H-0.2Z' : 'M-3.5,0H3.5'"},
       "fill":{"signal":"datum.value === 'Helix' ? '#ff0000' : datum.value === 'Strand' ? '#00c000' : datum.value === 'Coil' ? '#1e90ff' : 'transparent'"},
       "stroke":{"signal":"datum.value === 'Alignment Coverage' ? '#0000ff' : 'transparent'"},
       "strokeWidth":{"value":2.5},"opacity":{"value":1}}}}}}}},
  {"mark":{"type":"line","strokeWidth":2},
   "encoding":{"y":{"field":"c","type":"quantitative","title":"SS and Coverage","axis":{"values":[0,0.2,0.4,0.6,0.8,1],"labelExpr":"'' + datum.value","labelPadding":14,"titleX":-45,"titleBaseline":"middle"}},
    "color":{"datum":"Alignment Coverage","type":"nominal",
     "legend":{"legendX":1089,"legendY":6,"labelOffset":-30,
      "encode":{"symbols":{"update":{
       "shape":{"signal":"datum.value === 'Helix' ? 'M-0.6,-0.2H-0.2V-0.6H0.2V-0.2H0.6V0.2H0.2V0.6H-0.2V0.2H-0.6Z' : datum.value === 'Strand' ? 'M-0.7,-0.7H0.7V0.7H-0.7Z' : datum.value === 'Coil' ? 'M-0.2,-0.2H0.2V0.2H-0.2Z' : 'M-3.5,0H3.5'"},
       "fill":{"signal":"datum.value === 'Helix' ? '#ff0000' : datum.value === 'Strand' ? '#00c000' : datum.value === 'Coil' ? '#1e90ff' : 'transparent'"},
       "stroke":{"signal":"datum.value === 'Alignment Coverage' ? '#0000ff' : 'transparent'"},
       "strokeWidth":{"value":2.5},"opacity":{"value":1}}}}}}}}
 ]
}
]
}
